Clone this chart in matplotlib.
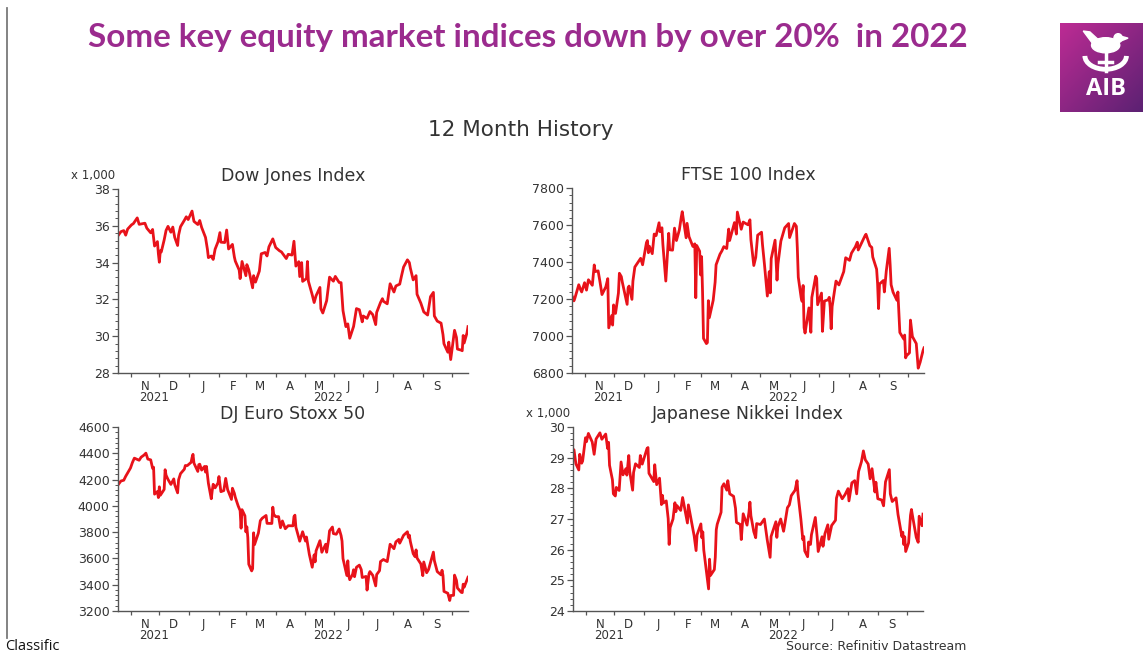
import matplotlib
matplotlib.use("Agg")
import matplotlib.pyplot as plt
import matplotlib.dates as mdates
from matplotlib.ticker import MultipleLocator, AutoMinorLocator, FixedLocator, NullFormatter
from matplotlib.patches import Ellipse, Polygon, Arc
import numpy as np

# ---------------- data (day offsets from 2021-10-19) ----------------
START = np.datetime64("2021-10-19")
END_DAY = 364

dow_days = [0, 3, 6, 8, 10, 14, 16, 20, 22, 24, 28, 30, 34, 36, 38, 41, 42, 43, 44, 45,
            48, 50, 52, 55, 57, 59, 62, 63, 65, 69, 71, 73, 77, 79, 83, 85, 87, 91, 93, 94,
            97, 99, 101, 104, 106, 107, 111, 113, 115, 119, 121, 122, 126, 127, 129, 133, 134, 136, 140, 141,
            143, 147, 149, 153, 155, 157, 161, 164, 168, 170, 175, 177, 181, 183, 185, 188, 189, 191, 192, 196,
            197, 198, 202, 204, 206, 210, 211, 213, 217, 220, 224, 226, 230, 232, 234, 237, 239, 241, 245, 248,
            251, 254, 255, 259, 262, 265, 268, 269, 273, 275, 276, 280, 283, 287, 289, 293, 295, 297, 301, 303,
            304, 307, 310, 311, 315, 318, 322, 325, 328, 329, 332, 336, 338, 339, 343, 344, 346, 350, 352, 353,
            357, 358, 359, 360, 363, 364]
dow_vals = [35.46, 35.68, 35.74, 35.49, 35.82, 36.05, 36.12, 36.43, 36.08, 36.10, 36.14, 35.87, 35.62, 35.80, 34.90, 35.14, 34.48, 34.02, 34.64, 34.58,
            35.23, 35.75, 35.97, 35.65, 35.93, 35.37, 34.93, 35.49, 35.95, 36.30, 36.49, 36.34, 36.80, 36.24, 36.07, 36.29, 35.91, 35.37, 34.72, 34.27,
            34.36, 34.17, 34.73, 35.13, 35.63, 35.11, 35.09, 35.77, 34.74, 34.99, 34.31, 34.08, 33.60, 33.13, 34.06, 33.29, 33.89, 33.61, 32.63, 33.29,
            32.94, 33.54, 34.48, 34.55, 34.36, 34.86, 35.29, 34.82, 34.64, 34.58, 34.22, 34.45, 34.41, 35.16, 33.81, 34.05, 33.24, 34.00, 32.98, 33.13,
            34.06, 32.99, 32.25, 31.83, 32.20, 32.65, 31.49, 31.26, 31.93, 33.21, 32.99, 33.25, 32.92, 32.91, 31.39, 30.52, 30.67, 29.89, 30.53, 31.50,
            31.44, 30.78, 31.10, 30.97, 31.34, 31.17, 30.63, 31.29, 31.83, 32.04, 31.90, 31.76, 32.85, 32.40, 32.73, 32.83, 33.31, 33.76, 34.15, 34.00,
            33.71, 33.06, 33.29, 32.28, 31.79, 31.32, 31.15, 32.15, 32.38, 31.10, 30.82, 30.71, 30.08, 29.59, 29.13, 29.68, 28.73, 30.32, 29.93, 29.30,
            29.24, 29.21, 30.04, 29.63, 30.19, 30.52]

ftse_days = [0, 2, 3, 7, 9, 10, 13, 15, 17, 21, 23, 24, 27, 29, 31, 35, 37, 38, 41, 42,
             43, 45, 48, 49, 51, 52, 57, 58, 59, 62, 63, 65, 71, 73, 77, 78, 79, 80, 83, 85,
             87, 90, 91, 93, 94, 97, 99, 100, 101, 104, 106, 108, 111, 113, 114, 118, 119, 121, 125, 127,
             128, 129, 132, 133, 134, 135, 136, 139, 140, 141, 142, 146, 148, 149, 153, 155, 157, 160, 162, 163,
             168, 170, 171, 175, 177, 182, 184, 185, 188, 190, 192, 196, 197, 199, 202, 204, 205, 206, 210, 212,
             213, 216, 220, 224, 225, 230, 232, 233, 234, 237, 238, 239, 240, 241, 245, 247, 248, 252, 253, 254,
             258, 259, 261, 265, 266, 267, 268, 269, 273, 276, 281, 283, 287, 289, 293, 295, 296, 300, 303, 304,
             308, 310, 311, 315, 316, 317, 318, 322, 323, 325, 328, 329, 330, 332, 336, 337, 339, 343, 344, 345,
             346, 349, 350, 352, 356, 358, 360, 363, 364]
ftse_vals = [7217, 7190, 7205, 7277, 7249, 7238, 7288, 7248, 7304, 7274, 7384, 7348, 7352, 7291, 7224, 7266, 7310, 7044, 7110, 7059,
             7168, 7122, 7232, 7339, 7321, 7292, 7171, 7260, 7270, 7198, 7297, 7373, 7420, 7385, 7505, 7516, 7450, 7485, 7445, 7551,
             7543, 7612, 7564, 7585, 7494, 7297, 7470, 7555, 7466, 7464, 7583, 7516, 7573, 7643, 7672, 7531, 7609, 7537, 7484, 7498,
             7207, 7489, 7458, 7330, 7429, 7238, 6987, 6959, 6964, 7191, 7099, 7193, 7291, 7385, 7442, 7460, 7483, 7473, 7578, 7516,
             7613, 7551, 7670, 7577, 7616, 7601, 7628, 7521, 7381, 7425, 7545, 7561, 7493, 7388, 7216, 7348, 7233, 7418, 7518, 7302,
             7390, 7513, 7585, 7608, 7532, 7608, 7593, 7476, 7318, 7206, 7187, 7273, 7045, 7016, 7152, 7020, 7208, 7323, 7312, 7169,
             7232, 7025, 7189, 7196, 7209, 7156, 7039, 7159, 7297, 7276, 7348, 7423, 7409, 7448, 7482, 7507, 7465, 7509, 7542, 7550,
             7488, 7479, 7427, 7361, 7284, 7148, 7281, 7300, 7238, 7351, 7474, 7385, 7277, 7237, 7193, 7238, 7019, 6984, 7005, 6882,
             6894, 6909, 7086, 6997, 6959, 6826, 6858, 6921, 6936]

stoxx_days = [0, 3, 6, 8, 10, 13, 15, 17, 20, 22, 24, 27, 29, 31, 34, 36, 37, 38, 41, 42,
              43, 44, 48, 49, 50, 52, 55, 58, 59, 62, 63, 65, 69, 70, 72, 76, 77, 78, 79, 83,
              84, 85, 87, 90, 91, 92, 94, 97, 98, 99, 101, 104, 105, 107, 110, 112, 114, 118, 119, 121,
              122, 125, 127, 128, 129, 132, 133, 134, 135, 136, 139, 140, 141, 142, 146, 148, 150, 154, 155, 160,
              161, 162, 164, 167, 169, 171, 174, 177, 182, 183, 184, 185, 188, 189, 192, 195, 196, 199, 202, 204,
              205, 206, 210, 212, 216, 217, 219, 220, 223, 224, 227, 230, 232, 233, 234, 237, 238, 239, 240, 241,
              244, 245, 246, 248, 251, 253, 254, 258, 259, 261, 262, 265, 268, 269, 272, 273, 276, 280, 282, 283,
              287, 289, 292, 293, 297, 301, 302, 303, 304, 307, 309, 310, 311, 315, 317, 318, 321, 323, 325, 328,
              329, 332, 336, 337, 338, 339, 343, 345, 346, 349, 350, 352, 353, 357, 358, 359, 360, 363, 364]
stoxx_vals = [4159, 4189, 4195, 4225, 4250, 4288, 4330, 4363, 4353, 4347, 4370, 4386, 4401, 4356, 4350, 4285, 4294, 4089, 4109, 4063,
              4145, 4080, 4125, 4275, 4233, 4201, 4163, 4205, 4161, 4099, 4198, 4245, 4279, 4307, 4306, 4331, 4367, 4392, 4325, 4262,
              4313, 4317, 4272, 4300, 4257, 4300, 4172, 4054, 4116, 4164, 4137, 4174, 4223, 4108, 4116, 4209, 4124, 4049, 4134, 4096,
              4065, 3999, 3964, 3830, 3971, 3924, 3802, 3841, 3759, 3556, 3505, 3522, 3795, 3705, 3793, 3887, 3906, 3927, 3867, 3866,
              3990, 3935, 3918, 3918, 3834, 3885, 3826, 3849, 3848, 3918, 3929, 3838, 3757, 3731, 3803, 3732, 3763, 3630, 3533, 3627,
              3574, 3658, 3735, 3647, 3708, 3647, 3741, 3810, 3839, 3789, 3784, 3824, 3774, 3732, 3599, 3505, 3470, 3582, 3469, 3438,
              3480, 3514, 3461, 3533, 3549, 3515, 3455, 3463, 3359, 3482, 3500, 3471, 3391, 3477, 3507, 3576, 3592, 3576, 3662, 3708,
              3674, 3726, 3745, 3716, 3776, 3803, 3760, 3777, 3730, 3636, 3613, 3665, 3603, 3558, 3469, 3573, 3491, 3516, 3570, 3648,
              3584, 3500, 3475, 3510, 3469, 3349, 3335, 3280, 3318, 3319, 3473, 3433, 3375, 3342, 3340, 3404, 3381, 3437, 3457]

nikkei_days = [0, 1, 3, 6, 7, 9, 10, 13, 14, 16, 20, 22, 24, 28, 30, 34, 36, 37, 38, 41,
               42, 44, 45, 48, 50, 52, 55, 56, 58, 59, 62, 63, 65, 69, 70, 72, 77, 78, 79, 84,
               85, 87, 90, 92, 93, 94, 97, 99, 100, 101, 104, 106, 107, 108, 112, 114, 119, 120, 122, 126,
               128, 129, 133, 134, 135, 136, 139, 141, 142, 143, 147, 148, 149, 150, 154, 155, 157, 160, 161, 163,
               167, 169, 170, 174, 175, 177, 181, 183, 184, 185, 188, 190, 191, 195, 199, 202, 205, 206, 211, 212,
               213, 216, 219, 220, 223, 225, 227, 231, 233, 234, 237, 239, 240, 241, 244, 245, 247, 248, 252, 254,
               255, 259, 260, 262, 265, 266, 269, 273, 274, 276, 280, 283, 286, 287, 290, 293, 295, 297, 300, 302,
               304, 307, 309, 311, 314, 315, 317, 321, 323, 325, 329, 330, 332, 336, 338, 342, 343, 344, 345, 346,
               349, 351, 352, 353, 357, 359, 360, 363, 364]
nikkei_vals = [29.22, 29.26, 28.80, 28.60, 29.11, 28.82, 28.89, 29.65, 29.52, 29.79, 29.51, 29.11, 29.61, 29.81, 29.60, 29.77, 29.30, 29.50, 28.75, 28.28,
               27.82, 27.75, 28.03, 27.93, 28.86, 28.44, 28.64, 28.43, 29.07, 28.55, 27.94, 28.52, 28.80, 28.68, 29.07, 28.79, 29.30, 29.33, 28.49, 28.22,
               28.77, 28.12, 28.33, 27.47, 27.77, 27.52, 27.59, 27.01, 26.17, 26.72, 27.00, 27.53, 27.24, 27.44, 27.28, 27.70, 26.87, 27.46, 27.12, 26.45,
               25.97, 26.48, 26.84, 26.39, 26.58, 25.99, 25.22, 24.72, 25.69, 25.16, 25.35, 25.76, 26.65, 26.83, 27.22, 28.04, 28.15, 27.94, 28.25, 27.82,
               27.74, 27.35, 26.89, 26.82, 26.33, 27.17, 26.80, 27.22, 27.55, 27.11, 26.59, 26.39, 26.85, 26.82, 27.00, 26.32, 25.75, 26.43, 26.91, 26.40,
               26.74, 27.00, 26.60, 26.78, 27.37, 27.46, 27.76, 27.94, 28.25, 27.82, 26.99, 26.33, 26.43, 25.96, 25.77, 26.25, 26.17, 26.49, 27.05, 26.39,
               25.94, 26.42, 26.11, 26.52, 26.81, 26.34, 26.79, 26.96, 27.68, 27.91, 27.66, 27.80, 27.99, 27.59, 28.18, 28.25, 27.82, 28.55, 28.87, 29.22,
               28.93, 28.79, 28.31, 28.64, 27.88, 28.20, 27.66, 27.62, 27.43, 28.21, 28.61, 27.82, 27.57, 27.69, 27.15, 26.43, 26.57, 26.17, 26.42, 25.94,
               26.22, 27.12, 27.31, 27.12, 26.40, 26.24, 27.09, 26.78, 27.16]

month_letters = ["N", "D", "J", "F", "M", "A", "M", "J", "J", "A", "S"]
month_starts = ["2021-11-01", "2021-12-01", "2022-01-01", "2022-02-01", "2022-03-01", "2022-04-01",
                "2022-05-01", "2022-06-01", "2022-07-01", "2022-08-01", "2022-09-01", "2022-10-01"]

panels = [
    dict(title="Dow Jones Index", days=dow_days, vals=dow_vals, ylim=(28, 38), step=2, scale_note=True,
         box=(118, 189, 468, 373)),
    dict(title="FTSE 100 Index", days=ftse_days, vals=ftse_vals, ylim=(6800, 7800), step=200, scale_note=False,
         box=(572, 188, 924, 373)),
    dict(title="DJ Euro Stoxx 50", days=stoxx_days, vals=stoxx_vals, ylim=(3200, 4600), step=200, scale_note=False,
         box=(118, 427, 468, 611)),
    dict(title="Japanese Nikkei Index", days=nikkei_days, vals=nikkei_vals, ylim=(24, 30), step=1, scale_note=True,
         box=(573, 427, 923, 611)),
]

# ---------------- figure ----------------
W, H = 1143, 653
fig = plt.figure(figsize=(W / 100, H / 100), dpi=100)
fig.patch.set_facecolor("white")
plt.rcParams["font.family"] = ["DejaVu Sans"]

LINE_RED = "#e8121a"
AX_GRAY = "#555555"
TXT = "#333333"

def add_px_axes(l, t, r, b):
    return fig.add_axes([l / W, 1 - b / H, (r - l) / W, (b - t) / H])

mstart_dates = np.array(month_starts, dtype="datetime64[D]")
mid_dates = mstart_dates[:-1] + 15

for p in panels:
    l, t, r, b = p["box"]
    ax = add_px_axes(l, t, r, b)
    x = START + np.array(p["days"]).astype("timedelta64[D]")
    ax.plot(x, p["vals"], color=LINE_RED, lw=2.0, solid_joinstyle="round")
    ax.set_xlim(START, START + np.timedelta64(END_DAY, "D"))
    ax.set_ylim(*p["ylim"])
    for s in ["top", "right"]:
        ax.spines[s].set_visible(False)
    for s in ["left", "bottom"]:
        ax.spines[s].set_color(AX_GRAY)
        ax.spines[s].set_linewidth(1.0)
    ax.yaxis.set_major_locator(MultipleLocator(p["step"]))
    ax.yaxis.set_minor_locator(AutoMinorLocator(5))
    ax.tick_params(axis="y", which="major", direction="out", length=4, width=0.9, color=AX_GRAY,
                   labelsize=9, labelcolor=TXT, pad=2)
    ax.tick_params(axis="y", which="minor", direction="out", length=2, width=0.7, color=AX_GRAY)
    ax.xaxis.set_major_locator(FixedLocator(mdates.date2num(mstart_dates)))
    ax.xaxis.set_major_formatter(NullFormatter())
    ax.xaxis.set_minor_locator(FixedLocator(mdates.date2num(mid_dates)))
    ax.xaxis.set_minor_formatter(matplotlib.ticker.FixedFormatter(month_letters))
    ax.tick_params(axis="x", which="major", direction="out", length=3, width=0.9, color=AX_GRAY)
    ax.tick_params(axis="x", which="minor", length=0, labelsize=8.5, labelcolor=TXT, pad=5)
    for yr, d in (("2021", mid_dates[0]), ("2022", mid_dates[6])):
        ax.text(mdates.date2num(d + 9), -0.098, yr, transform=ax.get_xaxis_transform(),
                ha="center", va="top", fontsize=8.5, color=TXT)
    ax.set_title(p["title"], fontsize=12.5, color=TXT, pad=6)
    if p["scale_note"]:
        fig.text((l - 3) / W, 1 - (t - 13) / H, "x 1,000", ha="right", va="center",
                 fontsize=8.5, color=TXT)

# headings
fig.text(521 / W, 1 - 130 / H, "12 Month History", ha="center", va="center", fontsize=15.5, color=TXT)

title = fig.text(88 / W, 1 - 37 / H, "Some key equity market indices down by over 20%  in 2022",
                 ha="left", va="center", fontsize=22, fontweight="bold", color="#9b2b8e",
                 family=["Lato", "DejaVu Sans"])
fig.canvas.draw()
bb = title.get_window_extent()
title.set_fontsize(22 * 880 / bb.width)

fig.text(786 / W, 1 - 640 / H, "Source: Refinitiv Datastream", ha="left", va="top", fontsize=9, color=TXT)
fig.text(5 / W, 1 - 639 / H, "Classific", ha="left", va="top", fontsize=10.5, color="#111111",
         family=["Open Sans", "DejaVu Sans"])

# left border line
fig.add_artist(matplotlib.lines.Line2D([7 / W, 7 / W], [1 - 8 / H, 1 - 638 / H], color="#7a7a7a", lw=1.3))

# AIB logo
lax = fig.add_axes([1060 / W, 1 - 112 / H, 83 / W, 89 / H])
gx, gy = np.meshgrid(np.linspace(0, 1, 60), np.linspace(0, 1, 60))
g = np.clip((gx + gy) / 2, 0, 1)
c1 = np.array([0.74, 0.17, 0.58])
c2 = np.array([0.36, 0.13, 0.45])
img = c1[None, None, :] * (1 - g[..., None]) + c2[None, None, :] * g[..., None]
lax.imshow(img, extent=(0, 1, 0, 1), origin="upper", aspect="auto")
lax.set_xlim(0, 1); lax.set_ylim(0, 1); lax.axis("off")
lax.add_patch(Ellipse((0.55, 0.75), 0.34, 0.17, color="white"))
lax.add_patch(Ellipse((0.70, 0.83), 0.10, 0.10, color="white"))
lax.add_patch(Polygon([[0.74, 0.85], [0.82, 0.83], [0.74, 0.80]], color="white"))
lax.add_patch(Polygon([[0.40, 0.76], [0.28, 0.91], [0.36, 0.90], [0.50, 0.78]], color="white"))
lax.add_patch(Arc((0.55, 0.63), 0.50, 0.30, theta1=180, theta2=360, color="white", lw=3.5))
lax.plot([0.55, 0.55], [0.66, 0.46], color="white", lw=2.5)
lax.plot([0.47, 0.63], [0.56, 0.56], color="white", lw=2.5)
lax.text(0.55, 0.26, "AIB", ha="center", va="center", color="white", fontsize=17, fontweight="bold",
         family=["Open Sans", "DejaVu Sans"])

fig.savefig("out.png", dpi=100, facecolor="white")
